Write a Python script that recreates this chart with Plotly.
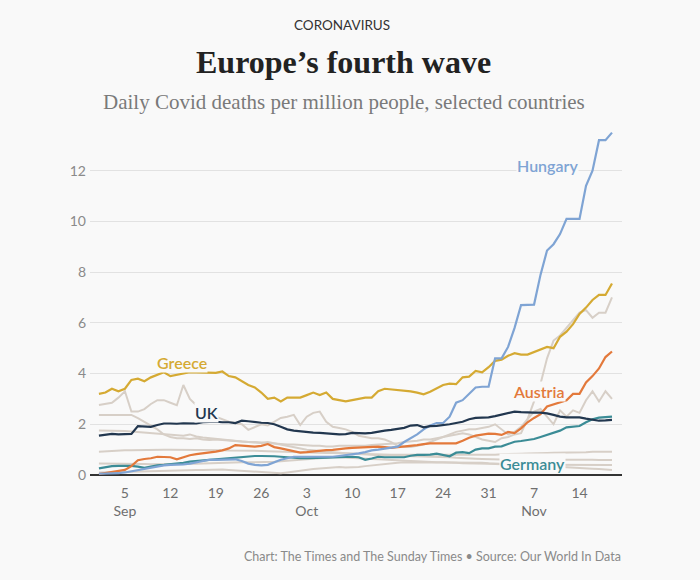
import pandas as pd
import plotly.graph_objects as go

dates = pd.date_range("2021-09-01", periods=80, freq="D")

hungary = [0.05,0.05,0.05,0.07,0.1,0.15,0.2,0.25,0.3,0.33,
           0.38,0.4,0.4,0.42,0.45,0.5,0.58,0.6,0.6,0.6,
           0.6,0.62,0.55,0.45,0.4,0.38,0.4,0.5,0.6,0.66,
           0.72,0.72,0.72,0.7,0.7,0.72,0.72,0.75,0.78,0.8,
           0.85,0.9,0.97,1.0,1.05,1.1,1.12,1.3,1.45,1.6,
           1.8,1.95,2.05,2.05,2.3,2.85,2.95,3.2,3.45,3.48,
           3.48,4.6,4.6,5.05,5.8,6.7,6.72,6.72,7.9,8.85,
           9.1,9.5,10.1,10.1,10.1,11.4,12.0,13.2,13.2,13.5]

greece = [3.2,3.25,3.4,3.3,3.4,3.75,3.8,3.7,3.85,3.95,
          4.05,3.9,3.95,4.0,4.05,4.05,4.05,4.03,4.03,4.08,
          3.9,3.85,3.7,3.55,3.45,3.25,3.0,3.05,2.9,3.05,
          3.05,3.05,3.15,3.25,3.15,3.25,3.0,2.95,2.9,2.95,
          3.0,3.05,3.05,3.3,3.4,3.38,3.35,3.33,3.3,3.25,
          3.18,3.28,3.4,3.55,3.6,3.58,3.85,3.88,4.1,4.05,
          4.25,4.5,4.55,4.7,4.8,4.75,4.75,4.85,4.95,5.05,
          5.0,5.45,5.65,5.95,6.35,6.6,6.9,7.1,7.1,7.55]

uk = [1.55,1.6,1.62,1.6,1.62,1.62,1.93,1.92,1.9,1.97,
      2.03,2.03,2.02,2.04,2.05,2.03,2.08,2.1,2.1,2.08,
      2.08,2.05,2.14,2.12,2.08,2.06,2.05,2.0,1.9,1.8,
      1.75,1.72,1.7,1.67,1.66,1.64,1.62,1.6,1.61,1.66,
      1.65,1.64,1.66,1.72,1.75,1.78,1.82,1.86,1.95,1.97,
      1.88,1.93,1.94,1.96,2.0,2.05,2.1,2.2,2.25,2.26,
      2.27,2.32,2.37,2.42,2.5,2.48,2.46,2.46,2.46,2.43,
      2.37,2.3,2.27,2.27,2.27,2.22,2.17,2.14,2.15,2.17]

austria = [0.04,0.08,0.13,0.16,0.2,0.35,0.58,0.63,0.66,0.72,
           0.72,0.7,0.62,0.7,0.78,0.82,0.85,0.88,0.92,0.97,
           1.05,1.18,1.15,1.14,1.12,1.15,1.22,1.1,1.05,0.99,
           0.92,0.88,0.9,0.93,0.97,0.98,0.99,1.03,1.05,1.07,
           1.08,1.1,1.12,1.12,1.1,1.07,1.1,1.12,1.15,1.18,
           1.22,1.25,1.25,1.25,1.25,1.25,1.35,1.47,1.55,1.6,
           1.63,1.62,1.58,1.7,1.65,1.84,2.08,2.25,2.4,2.7,
           2.78,2.85,2.95,3.2,3.2,3.65,3.9,4.2,4.65,4.87]

germany = [0.26,0.3,0.35,0.36,0.36,0.36,0.33,0.28,0.33,0.38,
           0.4,0.42,0.43,0.48,0.53,0.56,0.58,0.6,0.62,0.64,
           0.66,0.7,0.72,0.74,0.75,0.75,0.75,0.74,0.72,0.7,
           0.67,0.66,0.66,0.66,0.67,0.68,0.69,0.7,0.72,0.72,
           0.7,0.6,0.65,0.72,0.7,0.7,0.7,0.7,0.76,0.79,
           0.79,0.8,0.84,0.8,0.74,0.88,0.9,0.86,1.0,1.05,
           1.05,1.12,1.13,1.22,1.31,1.34,1.38,1.42,1.5,1.58,
           1.65,1.75,1.88,1.9,1.93,2.08,2.2,2.26,2.28,2.3]

grey_a = [2.37,2.37,2.38,2.38,2.37,2.37,2.24,2.1,1.95,1.8,
          1.6,1.5,1.45,1.45,1.42,1.45,1.4,1.38,1.4,1.38,
          1.35,1.35,1.32,1.3,1.3,1.28,1.25,1.22,1.2,1.2,
          1.2,1.18,1.15,1.15,1.15,1.12,1.12,1.15,1.15,1.15,
          1.15,1.15,1.18,1.2,1.2,1.22,1.25,1.3,1.32,1.35,
          1.4,1.4,1.45,1.5,1.55,1.6,1.65,1.6,1.5,1.4,
          1.35,1.3,1.45,1.5,1.6,1.65,2.2,2.9,3.6,4.6,
          5.3,5.5,5.8,6.1,6.4,6.5,6.2,6.4,6.4,7.0]

grey_b = [2.76,2.8,2.85,3.05,3.3,2.5,2.5,2.6,2.8,2.95,
          2.95,2.85,2.75,3.55,3.0,2.75,2.55,2.4,2.3,2.2,
          2.1,2.05,2.0,1.78,1.9,2.0,1.95,2.1,2.25,2.3,
          2.37,1.97,2.3,2.45,2.5,2.1,1.9,1.85,1.8,1.7,
          1.55,1.5,1.45,1.45,1.4,1.3,1.15,1.1,1.1,1.15,
          1.2,1.3,1.4,1.5,1.6,1.7,1.75,1.8,1.8,1.85,
          1.9,2.0,1.8,1.6,1.7,1.9,2.2,2.5,2.6,2.3,
          2.0,2.55,2.3,2.55,2.45,2.95,3.3,2.9,3.3,3.0]

grey_c = [0.92,0.94,0.96,0.97,0.98,0.98,0.99,1.0,1.0,1.0,
          1.0,1.0,1.0,1.0,1.0,1.0,1.0,1.0,0.98,0.98,
          0.97,0.97,0.96,0.95,0.95,0.95,0.94,0.93,0.92,0.9,
          0.9,0.9,0.88,0.88,0.88,0.87,0.87,0.86,0.86,0.85,
          0.85,0.84,0.83,0.82,0.8,0.8,0.8,0.8,0.8,0.78,
          0.78,0.78,0.8,0.8,0.8,0.8,0.8,0.8,0.8,0.8,
          0.8,0.8,0.82,0.82,0.83,0.84,0.85,0.85,0.86,0.87,
          0.88,0.88,0.89,0.9,0.9,0.9,0.92,0.92,0.92,0.92]

grey_d = [1.75,1.75,1.74,1.74,1.73,1.72,1.7,1.68,1.65,1.62,
          1.6,1.58,1.56,1.55,1.6,1.52,1.48,1.45,1.42,1.4,
          1.38,1.35,1.32,1.3,1.28,1.26,1.3,1.25,1.2,1.15,
          1.1,1.05,1.0,0.98,0.95,0.92,0.9,0.88,0.86,0.85,
          0.84,0.82,0.8,0.78,0.78,0.77,0.76,0.75,0.75,0.74,
          0.73,0.72,0.72,0.7,0.7,0.68,0.66,0.65,0.64,0.63,
          0.62,0.62,0.6,0.6,0.6,0.6,0.6,0.6,0.6,0.6,
          0.62,0.62,0.62,0.6,0.6,0.6,0.6,0.59,0.59,0.59]

grey_e = [0.45,0.45,0.44,0.44,0.44,0.43,0.43,0.43,0.42,0.42,
          0.42,0.42,0.42,0.42,0.43,0.44,0.45,0.46,0.47,0.48,
          0.5,0.5,0.5,0.5,0.5,0.5,0.5,0.52,0.54,0.56,
          0.58,0.6,0.62,0.64,0.66,0.7,0.7,0.7,0.68,0.66,
          0.64,0.63,0.63,0.62,0.6,0.58,0.56,0.55,0.55,0.54,
          0.52,0.5,0.5,0.5,0.5,0.48,0.46,0.46,0.45,0.45,
          0.44,0.43,0.42,0.42,0.42,0.41,0.4,0.4,0.4,0.4,
          0.4,0.4,0.4,0.4,0.4,0.39,0.39,0.39,0.39,0.39]

grey_f = [0.1,0.1,0.1,0.12,0.12,0.13,0.14,0.15,0.15,0.16,
          0.17,0.18,0.18,0.19,0.2,0.2,0.2,0.21,0.22,0.22,
          0.2,0.18,0.16,0.14,0.12,0.1,0.08,0.07,0.07,0.1,
          0.14,0.18,0.2,0.24,0.26,0.28,0.3,0.32,0.3,0.3,
          0.32,0.35,0.38,0.4,0.42,0.45,0.48,0.5,0.5,0.5,
          0.5,0.5,0.48,0.48,0.5,0.5,0.5,0.5,0.48,0.48,
          0.46,0.45,0.45,0.45,0.44,0.43,0.42,0.4,0.38,0.36,
          0.34,0.32,0.3,0.28,0.27,0.26,0.25,0.24,0.22,0.2]

grey_series = [grey_a, grey_b, grey_c, grey_d, grey_e, grey_f]

tick_dates = ["2021-09-05","2021-09-12","2021-09-19","2021-09-26","2021-10-03",
              "2021-10-10","2021-10-17","2021-10-24","2021-10-31","2021-11-07","2021-11-14"]
tick_text = ["5<br>Sep","12","19","26","3<br>Oct","10","17","24","31","7<br>Nov","14"]

y_ticks = [0, 2, 4, 6, 8, 10, 12]

BG = "#f9f9f9"
GREY = "#d7cfc7"
COL = {"Hungary": "#7fa4d4", "Greece": "#d5aa33", "UK": "#22374f",
       "Austria": "#e3793b", "Germany": "#3b8c96"}

fig = go.Figure()
for s in grey_series:
    fig.add_trace(go.Scatter(x=dates, y=s, mode="lines",
                             line=dict(color=GREY, width=2), hoverinfo="skip"))

main = [("Germany", germany), ("Austria", austria), ("Greece", greece),
        ("Hungary", hungary), ("UK", uk)]
for name, s in main:
    fig.add_trace(go.Scatter(x=dates, y=s, mode="lines", name=name,
                             line=dict(color=COL[name], width=2.2)))

labels = [("Hungary", "2021-11-09 01:00", 12.2),
          ("Greece", "2021-09-13 19:00", 4.42),
          ("UK", "2021-09-17 12:00", 2.45),
          ("Austria", "2021-11-07 20:00", 3.28),
          ("Germany", "2021-11-06 17:00", 0.47)]
anns = []
for name, lx, ly in labels:
    anns.append(dict(x=lx, y=ly, xref="x", yref="y", text=name, showarrow=False,
                     font=dict(family="Lato", size=16, color=COL[name], weight=600),
                     bgcolor=BG, borderpad=0))

anns += [
    dict(text="CORONAVIRUS", x=0.474, y=1.286, xref="paper", yref="paper", yanchor="middle",
         showarrow=False, font=dict(family="Lato", size=13.5, color="#333333", weight=400)),
    dict(text="<b>Europe’s fourth wave</b>", x=0.476, y=1.18, xref="paper", yref="paper",
         yanchor="middle", showarrow=False,
         font=dict(family="Liberation Serif", size=32, color="#222222")),
    dict(text="Daily Covid deaths per million people, selected countries", x=0.477, y=1.067,
         xref="paper", yref="paper", yanchor="middle", showarrow=False,
         font=dict(family="Liberation Serif", size=21, color="#7a7a7a")),
    dict(text="Chart: The Times and The Sunday Times • Source: Our World In Data",
         x=1.002, y=-0.234, xref="paper", yref="paper", xanchor="right", yanchor="middle",
         showarrow=False, font=dict(family="Lato", size=12.5, color="#8a8a8a")),
]

fig.update_layout(
    width=700, height=580,
    margin=dict(l=90, r=78, t=125, b=105),
    paper_bgcolor=BG, plot_bgcolor=BG,
    showlegend=False,
    annotations=anns,
    xaxis=dict(type="date", range=["2021-08-30 15:00", "2021-11-20 13:00"],
               tickvals=tick_dates, ticktext=tick_text, showgrid=False,
               zeroline=False, showline=False, ticks="", ticklabelstandoff=8,
               tickfont=dict(family="Lato", size=14, color="#6f6f6f")),
    yaxis=dict(range=[0, 13.8], tickvals=y_ticks, showgrid=True, gridcolor="#e2e2e2",
               gridwidth=1, zeroline=True, zerolinecolor="#333333", zerolinewidth=1.5,
               ticks="", ticklabelstandoff=3,
               tickfont=dict(family="Lato", size=14, color="#8a8a8a")),
)

fig.write_html("out.html")
